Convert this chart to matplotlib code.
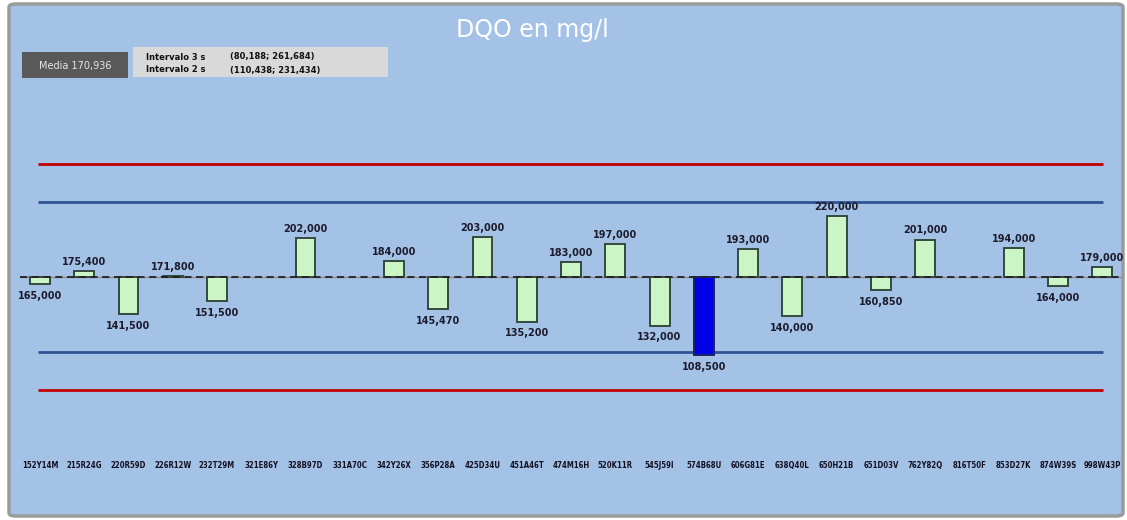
import numpy as np
import matplotlib
matplotlib.use("Agg")
import matplotlib.pyplot as plt
from matplotlib.patches import Rectangle, FancyBboxPatch

# Data (DQO, mg/l)
codes = ["152Y14M", "215R24G", "220R59D", "226R12W", "232T29M", "321E86Y", "328B97D",
         "331A70C", "342Y26X", "356P28A", "425D34U", "451A46T", "474M16H", "520K11R",
         "545J59I", "574B68U", "606G81E", "638Q40L", "650H21B", "651D03V", "762Y82Q",
         "816T50F", "853D27K", "874W39S", "998W43P"]
values = [165.0, 175.4, 141.5, 171.8, 151.5, None, 202.0,
          None, 184.0, 145.47, 203.0, 135.2, 183.0, 197.0,
          132.0, 108.5, 193.0, 140.0, 220.0, 160.85, 201.0,
          None, 194.0, 164.0, 179.0]
highlight = "574B68U"
mean = 170.936
int3 = (80.188, 261.684)
int2 = (110.438, 231.434)

W, H = 1127, 520
bg = "#a4c1e6"

def fmt(v):
    return f"{v:,.3f}".replace(",", " ").replace(".", ",").replace(" ", ".")

fig = plt.figure(figsize=(W / 100, H / 100), dpi=100)
fig.patch.set_facecolor("white")

# outer frame
fig.patches.append(FancyBboxPatch((9 / W, 4 / H), 1114 / W, 512 / H,
                                  boxstyle="round,pad=0,rounding_size=0.006",
                                  transform=fig.transFigure, facecolor=bg,
                                  edgecolor="#9a9a9a", linewidth=2.5, zorder=-5))

ax = fig.add_axes([20 / W, 80 / H, 1102 / W, 350 / H])
ax.set_zorder(2)
ax.set_facecolor("none")
for s in ax.spines.values():
    s.set_visible(False)

x = np.arange(len(codes))
ax.set_xlim(-0.452, 24.45)
ax.set_ylim(40.2, 320.9)

# limit lines
ax.hlines(list(int3), -0.05, 24.03, color="#c00000", lw=2.0, zorder=1)
ax.hlines(list(int2), -0.05, 24.03, color="#2f5496", lw=2.0, zorder=1)

for xi, code, v in zip(x, codes, values):
    if v is None:
        continue
    if code == highlight:
        fc, ec = "#0000e6", "#1b2460"
    else:
        fc, ec = "#ccf5c6", "#34493e"
    ax.bar(xi, v - mean, bottom=mean, width=0.45, color=fc, edgecolor=ec,
           linewidth=1.4, zorder=3)
    if v >= mean:
        ax.annotate(fmt(v), (xi, v), xytext=(0, 3), textcoords="offset points",
                    ha="center", va="bottom", fontsize=7, fontweight="bold",
                    color="#1c1c2c", zorder=5)
    else:
        ax.annotate(fmt(v), (xi, v), xytext=(0, -5), textcoords="offset points",
                    ha="center", va="top", fontsize=7, fontweight="bold",
                    color="#1c1c2c", zorder=5)

# mean line
ax.axhline(mean, color="#8c8c8c", lw=1.0, zorder=2)
ax.axhline(mean, color="#222222", lw=1.3, ls=(0, (4, 2.5)), zorder=4)

ax.set_yticks([])
ax.set_xticks(x)
ax.set_xticklabels(codes, fontsize=5.6, fontweight="bold", color="#111122",
                   fontstretch="condensed")
ax.tick_params(axis="x", length=0, pad=15)

# title
fig.text(532 / W, 1 - 30 / H, "DQO en mg/l", color="white", fontsize=17,
         ha="center", va="center")

# info boxes
fig.patches.append(Rectangle((22 / W, 1 - 78 / H), 106 / W, 26 / H,
                             transform=fig.transFigure, facecolor="#595959",
                             edgecolor="none", zorder=1))
fig.text(75 / W, 1 - 66 / H, "Media " + fmt(mean), color="#e6e6e6",
         fontsize=7, ha="center", va="center")
fig.patches.append(Rectangle((133 / W, 1 - 77 / H), 255 / W, 30 / H,
                             transform=fig.transFigure, facecolor="#d9d9d9",
                             edgecolor="none", zorder=1))
rows = [("Intervalo 3 s", int3), ("Intervalo 2 s", int2)]
for i, (lab, (lo, hi)) in enumerate(rows):
    yy = 1 - (57 + 13 * i) / H
    fig.text(146 / W, yy, lab, fontsize=6, fontweight="bold", color="#111111",
             va="center")
    fig.text(230 / W, yy, f"({fmt(lo)}; {fmt(hi)})", fontsize=6,
             fontweight="bold", color="#111111", va="center")

fig.savefig("out.png", dpi=100, facecolor=fig.get_facecolor())
